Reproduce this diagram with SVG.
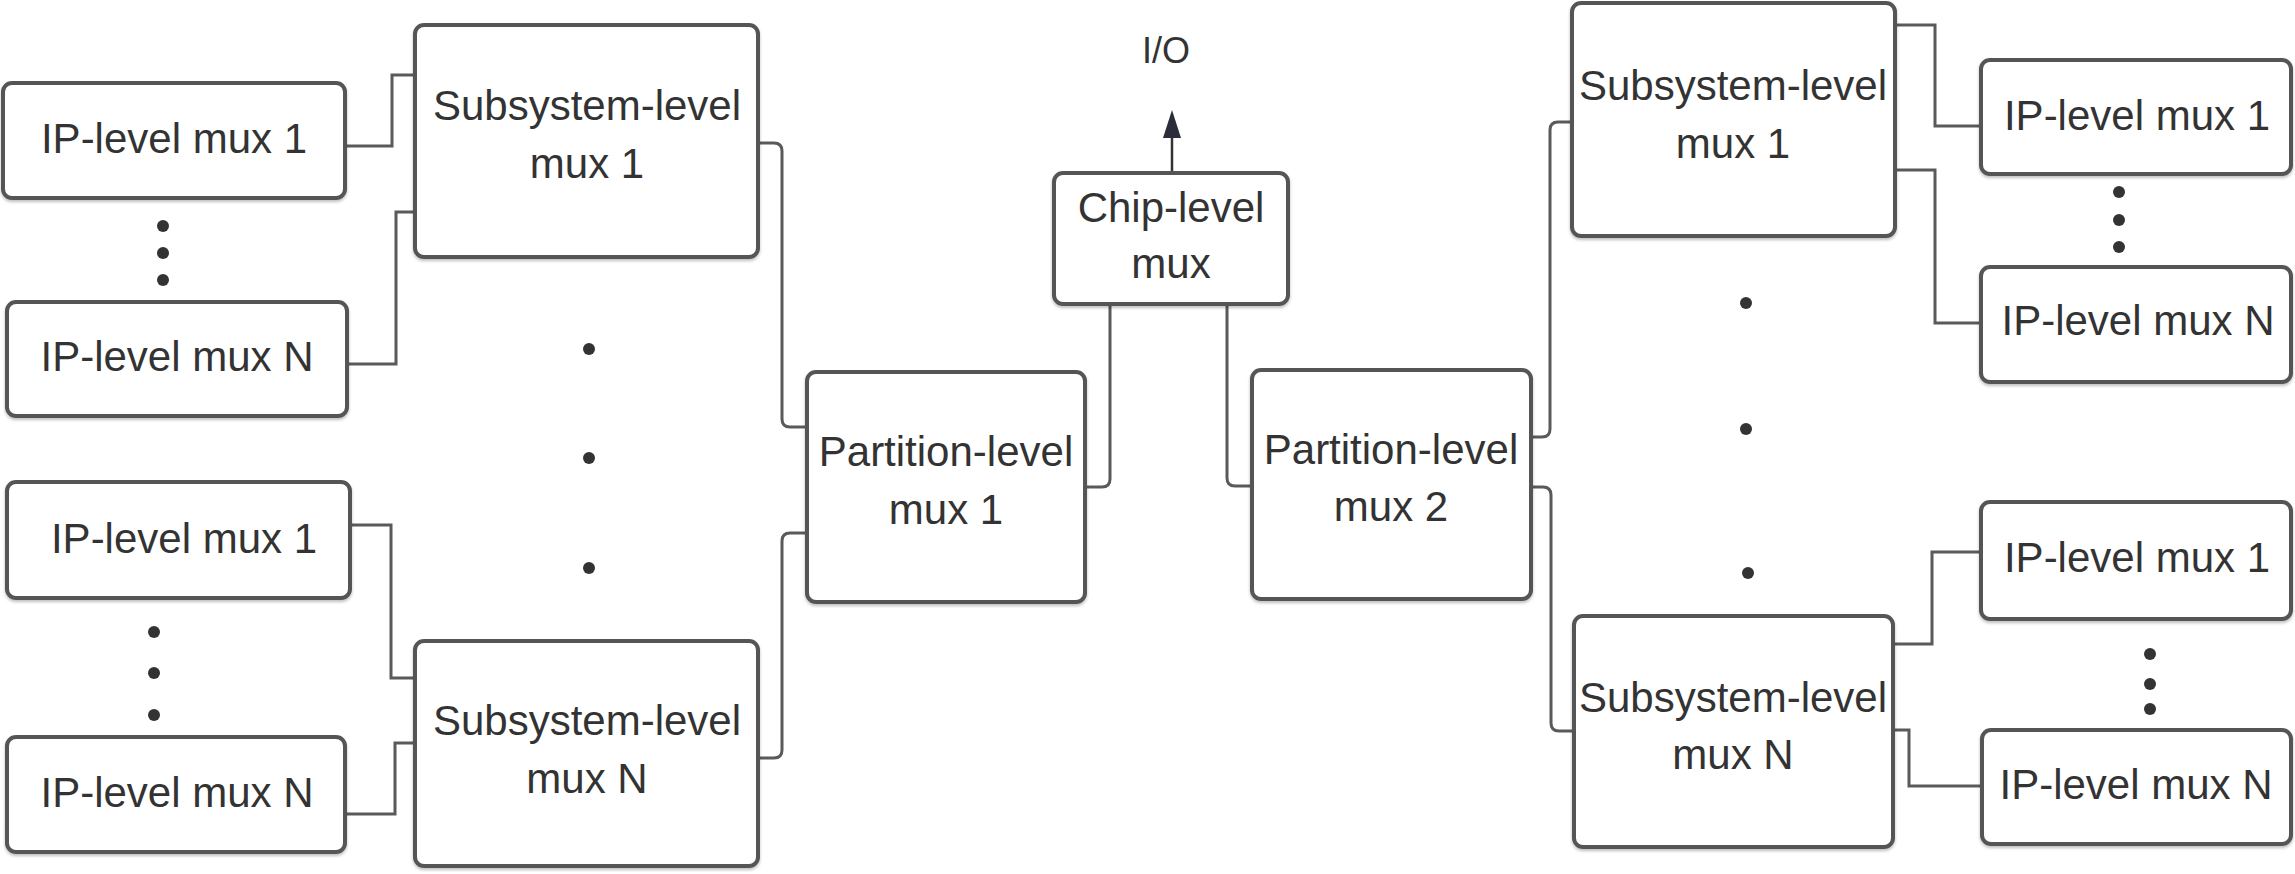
<svg xmlns="http://www.w3.org/2000/svg" width="2295" height="874" viewBox="0 0 2295 874">
  <style>
    .box { fill: #ffffff; stroke: #555555; stroke-width: 4; filter: url(#shadow); }
    .lbl { font-family: "Liberation Sans", Arial, sans-serif; font-size: 42px; fill: #333333; text-anchor: middle; }
    .io { font-family: "Liberation Sans", Arial, sans-serif; font-size: 36px; fill: #333333; text-anchor: middle; }
    .wire { fill: none; stroke: #5a5a5a; stroke-width: 3; }
    .dot { fill: #333333; }
  </style>
  <defs>
    <filter id="shadow" x="-5%" y="-5%" width="110%" height="115%">
      <feDropShadow dx="0" dy="2" stdDeviation="1.5" flood-color="#000000" flood-opacity="0.25"/>
    </filter>
  </defs>
  <rect width="2295" height="874" fill="#ffffff"/>

  <!-- connectors -->
  <g id="connectors">
    <path class="wire" d="M345 146 H392 V75 H415"/>
    <path class="wire" d="M347 364 H396 V212 H415"/>
    <path class="wire" d="M350 525 H391 V678 H415"/>
    <path class="wire" d="M345 814 H395 V743 H415"/>
    <path class="wire" d="M758 143 H774 Q782 143 782 151 V419 Q782 427 790 427 H807"/>
    <path class="wire" d="M758 758 H774 Q782 758 782 750 V541 Q782 533 790 533 H807"/>
    <path class="wire" d="M1085 487 H1102 Q1110 487 1110 479 V304"/>
    <path class="wire" d="M1252 486 H1235 Q1227 486 1227 478 V304"/>
    <path class="wire" d="M1532 437 H1542 Q1550 437 1550 429 V130 Q1550 122 1558 122 H1572"/>
    <path class="wire" d="M1532 487 H1543 Q1551 487 1551 495 V723 Q1551 731 1559 731 H1574"/>
    <path class="wire" d="M1895 25 H1935 V126 H1981"/>
    <path class="wire" d="M1895 170 H1935 V323 H1981"/>
    <path class="wire" d="M1893 644 H1932 V552 H1981"/>
    <path class="wire" d="M1893 730 H1909 V786 H1982"/>
    <line x1="1172" y1="173" x2="1172" y2="134" stroke="#333333" stroke-width="2.5"/>
    <polygon points="1172,110 1163,138 1181,138" fill="#2b2e3a"/>
  </g>

  <!-- left branch -->
  <g id="ip-left-1a">
    <rect class="box" x="3" y="83" width="342" height="115" rx="9"/>
    <text class="lbl" x="174" y="153">IP-level mux 1</text>
  </g>
  <g id="ip-left-na">
    <rect class="box" x="7" y="302" width="340" height="114" rx="9"/>
    <text class="lbl" x="177" y="371">IP-level mux N</text>
  </g>
  <g id="ip-left-1b">
    <rect class="box" x="7" y="482" width="343" height="116" rx="9"/>
    <text class="lbl" x="184" y="553">IP-level mux 1</text>
  </g>
  <g id="ip-left-nb">
    <rect class="box" x="7" y="737" width="338" height="115" rx="9"/>
    <text class="lbl" x="177" y="807">IP-level mux N</text>
  </g>
  <g id="sub-left-1">
    <rect class="box" x="415" y="25" width="343" height="232" rx="9"/>
    <text class="lbl" x="587" y="120">Subsystem-level</text>
    <text class="lbl" x="587" y="178">mux 1</text>
  </g>
  <g id="sub-left-n">
    <rect class="box" x="415" y="641" width="343" height="225" rx="9"/>
    <text class="lbl" x="587" y="735">Subsystem-level</text>
    <text class="lbl" x="587" y="793">mux N</text>
  </g>
  <g id="partition-1">
    <rect class="box" x="807" y="372" width="278" height="230" rx="9"/>
    <text class="lbl" x="946" y="466">Partition-level</text>
    <text class="lbl" x="946" y="524">mux 1</text>
  </g>

  <!-- top -->
  <g id="chip">
    <rect class="box" x="1054" y="173" width="234" height="131" rx="9"/>
    <text class="lbl" x="1171" y="222">Chip-level</text>
    <text class="lbl" x="1171" y="278">mux</text>
  </g>
  <g id="io">
    <text class="io" x="1166" y="63">I/O</text>
  </g>

  <!-- right branch -->
  <g id="partition-2">
    <rect class="box" x="1252" y="370" width="279" height="229" rx="9"/>
    <text class="lbl" x="1391" y="464">Partition-level</text>
    <text class="lbl" x="1391" y="521">mux 2</text>
  </g>
  <g id="sub-right-1">
    <rect class="box" x="1572" y="3" width="323" height="233" rx="9"/>
    <text class="lbl" x="1733" y="100">Subsystem-level</text>
    <text class="lbl" x="1733" y="158">mux 1</text>
  </g>
  <g id="sub-right-n">
    <rect class="box" x="1574" y="616" width="319" height="231" rx="9"/>
    <text class="lbl" x="1733" y="712">Subsystem-level</text>
    <text class="lbl" x="1733" y="769">mux N</text>
  </g>
  <g id="ip-right-1a">
    <rect class="box" x="1981" y="60" width="310" height="114" rx="9"/>
    <text class="lbl" x="2137" y="130">IP-level mux 1</text>
  </g>
  <g id="ip-right-na">
    <rect class="box" x="1981" y="267" width="310" height="115" rx="9"/>
    <text class="lbl" x="2138" y="335">IP-level mux N</text>
  </g>
  <g id="ip-right-1b">
    <rect class="box" x="1981" y="502" width="310" height="117" rx="9"/>
    <text class="lbl" x="2137" y="572">IP-level mux 1</text>
  </g>
  <g id="ip-right-nb">
    <rect class="box" x="1982" y="730" width="309" height="114" rx="9"/>
    <text class="lbl" x="2136" y="799">IP-level mux N</text>
  </g>

  <!-- ellipsis dots -->
  <g id="ellipses">
    <circle class="dot" cx="163" cy="226" r="6"/>
    <circle class="dot" cx="163" cy="253" r="6"/>
    <circle class="dot" cx="163" cy="280" r="6"/>
    <circle class="dot" cx="154" cy="632" r="6"/>
    <circle class="dot" cx="154" cy="673" r="6"/>
    <circle class="dot" cx="154" cy="715" r="6"/>
    <circle class="dot" cx="589" cy="349" r="6"/>
    <circle class="dot" cx="589" cy="458" r="6"/>
    <circle class="dot" cx="589" cy="568" r="6"/>
    <circle class="dot" cx="1746" cy="303" r="6"/>
    <circle class="dot" cx="1746" cy="429" r="6"/>
    <circle class="dot" cx="1748" cy="573" r="6"/>
    <circle class="dot" cx="2119" cy="192" r="6"/>
    <circle class="dot" cx="2119" cy="220" r="6"/>
    <circle class="dot" cx="2119" cy="247" r="6"/>
    <circle class="dot" cx="2150" cy="654" r="6"/>
    <circle class="dot" cx="2150" cy="684" r="6"/>
    <circle class="dot" cx="2150" cy="709" r="6"/>
  </g>
</svg>
